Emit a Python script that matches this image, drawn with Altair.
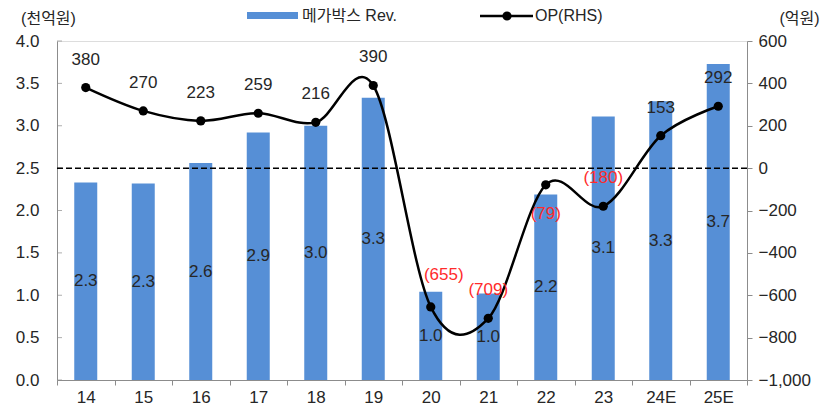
import altair as alt
import pandas as pd

# ---- data ----
years = ["14", "15", "16", "17", "18", "19", "20", "21", "22", "23", "24E", "25E"]
revenue = [2.33, 2.32, 2.56, 2.92, 3.0, 3.33, 1.04, 1.02, 2.19, 3.11, 3.29, 3.73]  # 천억원
op = [380, 270, 223, 259, 216, 390, -655, -709, -79, -180, 153, 292]  # 억원
left_ticks = [0, 0.5, 1.0, 1.5, 2.0, 2.5, 3.0, 3.5, 4.0]
right_ticks = [-1000, -800, -600, -400, -200, 0, 200, 400, 600]

df = pd.DataFrame({"cat": years, "rev": revenue, "op": op})

FONT = "'Liberation Sans', 'Noto Sans CJK KR', sans-serif"
TXT = "#262626"
BLUE = "#568fd6"
RED = "#ff2b2b"
AXC = "#8c8c8c"

x_enc = alt.X(
    "cat:N", sort=years, title=None,
    scale=alt.Scale(paddingInner=0, paddingOuter=0),
    axis=alt.Axis(labelAngle=0, tickBand="extent", tickSize=5, tickColor=AXC,
                  domainColor=AXC, labelFontSize=17, labelColor=TXT,
                  labelFont=FONT, labelPadding=4, grid=False),
)

left_scale = alt.Scale(domain=[0, 4], nice=False, zero=True)
left_axis = alt.Axis(values=left_ticks, format=".1f", ticks=False, labelPadding=18,
                     domainColor=AXC, labelFontSize=17, labelColor=TXT, labelFont=FONT,
                     grid=False, title="(천억원)", titleAngle=0, titleX=-9, titleY=-23,
                     titleAlign="center", titleBaseline="middle", titleFontSize=16,
                     titleFontWeight="normal", titleColor=TXT, titleFont=FONT)

right_scale = alt.Scale(domain=[-1000, 600], nice=False, zero=False)
right_axis = alt.Axis(values=right_ticks, tickSize=5, tickColor=AXC, labelPadding=6,
                      labelExpr="replace(format(datum.value, ','), '-', '\u2212')",
                      domainColor=AXC, labelFontSize=17, labelColor=TXT, labelFont=FONT,
                      grid=False, title="(억원)", titleAngle=0, titleX=52, titleY=-23,
                      titleAlign="center", titleBaseline="middle", titleFontSize=16,
                      titleFontWeight="normal", titleColor=TXT, titleFont=FONT)

base = alt.Chart(df)

bars = base.mark_bar(size=23, color=BLUE).encode(
    x=x_enc, y=alt.Y("rev:Q", scale=left_scale, axis=left_axis)
)
bar_text = base.transform_calculate(mid="datum.rev / 2").mark_text(
    fontSize=17, color=TXT, font=FONT, baseline="middle"
).encode(
    x=x_enc,
    y=alt.Y("mid:Q", scale=left_scale, axis=left_axis),
    text=alt.Text("rev:Q", format=".1f"),
)
lt = alt.Chart(pd.DataFrame({"v": left_ticks})).mark_tick(
    size=5, thickness=1, color=AXC, orient="horizontal"
).encode(
    y=alt.Y("v:Q", scale=left_scale, axis=left_axis), x=alt.value(2.5)
)
left = alt.layer(bars, bar_text, lt)

zero_rule = alt.Chart(pd.DataFrame({"z": [0]})).mark_rule(
    color="black", strokeWidth=1.5, strokeDash=[6, 3]
).encode(y=alt.Y("z:Q", scale=right_scale, axis=right_axis))

line = base.mark_line(color="black", strokeWidth=2.5, interpolate="cardinal").encode(
    x=x_enc, y=alt.Y("op:Q", scale=right_scale, axis=right_axis)
)
pts = base.mark_point(filled=True, color="black", size=85, opacity=1).encode(
    x=x_enc, y=alt.Y("op:Q", scale=right_scale, axis=right_axis)
)
lab_base = base.transform_calculate(
    lab="datum.op < 0 ? '(' + format(-datum.op, 'd') + ')' : format(datum.op, 'd')"
)
pos_lab = lab_base.transform_filter("datum.op >= 0").mark_text(
    fontSize=17, color=TXT, font=FONT, dy=-28, baseline="middle"
).encode(x=x_enc, y=alt.Y("op:Q", scale=right_scale, axis=right_axis), text="lab:N")
neg_lab = lab_base.transform_filter("datum.op < 0 && datum.cat != '22' && datum.cat != '20'").mark_text(
    fontSize=17, color=RED, font=FONT, dy=-28, baseline="middle"
).encode(x=x_enc, y=alt.Y("op:Q", scale=right_scale, axis=right_axis), text="lab:N")
neg_lab20 = lab_base.transform_filter("datum.cat == '20'").mark_text(
    fontSize=17, color=RED, font=FONT, dy=-32, dx=13, baseline="middle"
).encode(x=x_enc, y=alt.Y("op:Q", scale=right_scale, axis=right_axis), text="lab:N")
neg_lab22 = lab_base.transform_filter("datum.cat == '22'").mark_text(
    fontSize=17, color=RED, font=FONT, dy=29, baseline="middle"
).encode(x=x_enc, y=alt.Y("op:Q", scale=right_scale, axis=right_axis), text="lab:N")

right = alt.layer(zero_rule, line, pts, pos_lab, neg_lab, neg_lab20, neg_lab22)

# ---- legend (manual) ----
one = alt.Chart(pd.DataFrame({"a": [0]}))
leg_rect = one.mark_rect(color=BLUE).encode(
    x=alt.value(190), x2=alt.value(241), y=alt.value(-29), y2=alt.value(-22))
leg_t1 = one.mark_text(align="left", baseline="middle", fontSize=16, color=TXT, font=FONT).encode(
    x=alt.value(245), y=alt.value(-25), text=alt.value("메가박스 Rev."))
leg_line = one.mark_rule(color="black", strokeWidth=2.5).encode(
    x=alt.value(423), x2=alt.value(476), y=alt.value(-25))
leg_pt = one.mark_point(filled=True, color="black", size=85, opacity=1).encode(
    x=alt.value(450), y=alt.value(-25))
leg_t2 = one.mark_text(align="left", baseline="middle", fontSize=16, color=TXT, font=FONT).encode(
    x=alt.value(478), y=alt.value(-25), text=alt.value("OP(RHS)"))

chart = alt.layer(left, right, leg_rect, leg_t1, leg_line, leg_pt, leg_t2).resolve_scale(
    y="independent"
).properties(
    width=690, height=339,
    autosize=alt.AutoSizeParams(type="none"),
    padding={"left": 49, "top": 33, "right": 76, "bottom": 27},
).configure_view(stroke=None).configure(background="white")

chart.save("out.html", embed_options={"renderer": "svg", "actions": False})
